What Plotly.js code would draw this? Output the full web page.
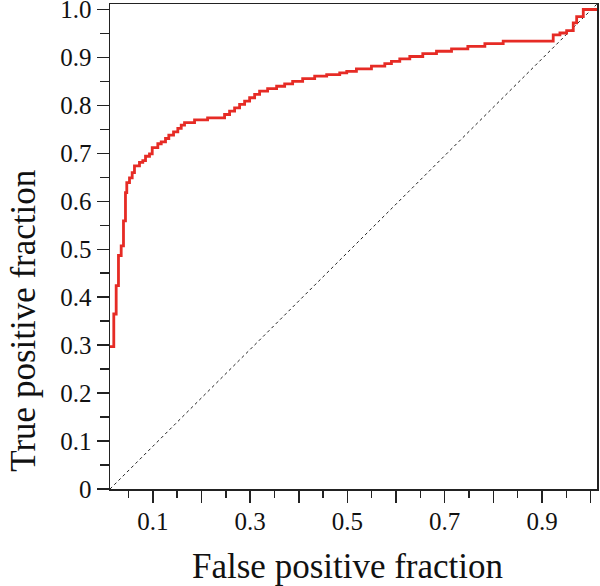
<!DOCTYPE html>
<html>
<head>
<meta charset="utf-8">
<script src="https://cdn.plot.ly/plotly-3.0.1.min.js"></script>
<style>
  body { margin: 0; background: #fff; }
  #plot { width: 600px; height: 586px; }
</style>
</head>
<body>
<div id="plot"></div>
<script>
// ROC curve, step points (false positive fraction, true positive fraction)
var fpf = [0.012, 0.0198, 0.0247, 0.0294, 0.035, 0.0397, 0.0438, 0.0465, 0.0521, 0.0576,
    0.0623, 0.0726, 0.0794, 0.085, 0.0932, 0.0988, 0.1103, 0.1173, 0.1261, 0.1329,
    0.1426, 0.1514, 0.1584, 0.1652, 0.1858, 0.2126, 0.2475, 0.2578, 0.2681, 0.2784,
    0.2887, 0.299, 0.3093, 0.3195, 0.336, 0.3545, 0.371, 0.3874, 0.408, 0.4327,
    0.4574, 0.4842, 0.4986, 0.5185, 0.5494, 0.5768, 0.5905, 0.6076, 0.6282, 0.6549,
    0.6831, 0.714, 0.7475, 0.7825, 0.8202, 0.923, 0.9368, 0.9506, 0.9642, 0.9712,
    0.9848, 1.013];
var tpf = [0.297, 0.365, 0.424, 0.487, 0.507, 0.559, 0.618, 0.639, 0.649, 0.66,
    0.674, 0.681, 0.685, 0.694, 0.699, 0.712, 0.72, 0.724, 0.731, 0.738,
    0.745, 0.752, 0.759, 0.764, 0.77, 0.774, 0.781, 0.788, 0.795, 0.802,
    0.809, 0.816, 0.823, 0.83, 0.835, 0.84, 0.845, 0.85, 0.856, 0.861,
    0.864, 0.868, 0.871, 0.876, 0.882, 0.887, 0.892, 0.897, 0.902, 0.908,
    0.913, 0.918, 0.923, 0.929, 0.934, 0.947, 0.951, 0.956, 0.972, 0.985,
    1.0, 1.0];

// chance line, corner to corner of the plot
var chanceX = [0.012, 1.013];
var chanceY = [0, 1.0115];

var xTicks = [0.1, 0.2, 0.3, 0.4, 0.5, 0.6, 0.7, 0.8, 0.9, 1.0];
var xLabels = ['0.1', '', '0.3', '', '0.5', '', '0.7', '', '0.9', ''];
var yTicks = [0, 0.1, 0.2, 0.3, 0.4, 0.5, 0.6, 0.7, 0.8, 0.9, 1.0];
var yLabels = ['0', '0.1', '0.2', '0.3', '0.4', '0.5', '0.6', '0.7', '0.8', '0.9', '1.0'];

var serif = 'Liberation Serif, Times New Roman, serif';

var roc = {
    x: fpf,
    y: tpf,
    type: 'scatter',
    mode: 'lines',
    line: { shape: 'hv', color: '#e62b25', width: 2.8 },
    hoverinfo: 'skip'
};
var chance = {
    x: chanceX,
    y: chanceY,
    type: 'scatter',
    mode: 'lines',
    line: { color: '#222', width: 1, dash: 'dot' },
    hoverinfo: 'skip'
};

var layout = {
    width: 600,
    height: 586,
    margin: { l: 110, r: 3, t: 4, b: 97 },
    showlegend: false,
    paper_bgcolor: '#fff',
    plot_bgcolor: '#fff',
    font: { family: serif, color: '#111' },
    xaxis: {
        range: [0.012, 1.013],
        tickmode: 'array',
        tickvals: xTicks,
        ticktext: xLabels,
        ticks: 'outside',
        ticklen: 12,
        tickwidth: 1.5,
        tickcolor: '#222',
        ticklabelstandoff: -3,
        minor: { dtick: 0.05, tick0: 0, ticks: 'outside', ticklen: 7, tickwidth: 1.5, tickcolor: '#222' },
        showgrid: false,
        zeroline: false,
        showline: true,
        linecolor: '#222',
        linewidth: 1.5,
        mirror: true,
        tickfont: { family: serif, size: 25, color: '#111' }
    },
    yaxis: {
        range: [0, 1.0115],
        tickmode: 'array',
        tickvals: yTicks,
        ticktext: yLabels,
        ticks: 'outside',
        ticklen: 12,
        tickwidth: 1.5,
        tickcolor: '#222',
        ticklabeloverflow: 'allow',
        minor: { dtick: 0.05, tick0: 0, ticks: 'outside', ticklen: 9, tickwidth: 1.5, tickcolor: '#222' },
        showgrid: false,
        zeroline: false,
        showline: true,
        linecolor: '#222',
        linewidth: 1.5,
        mirror: true,
        tickfont: { family: serif, size: 25, color: '#111' }
    },
    annotations: [
        {
            text: 'False positive fraction',
            xref: 'paper', yref: 'paper',
            x: 0.4867, y: -0.1588,
            xanchor: 'center', yanchor: 'middle',
            showarrow: false,
            font: { family: serif, size: 35, color: '#111' }
        },
        {
            text: 'True positive fraction',
            xref: 'paper', yref: 'paper',
            x: -0.2218, y: 0.348,
            xanchor: 'left', yanchor: 'middle',
            textangle: -90,
            showarrow: false,
            font: { family: serif, size: 35, color: '#111' }
        }
    ]
};

Plotly.newPlot('plot', [chance, roc], layout, { staticPlot: true });
</script>
</body>
</html>
